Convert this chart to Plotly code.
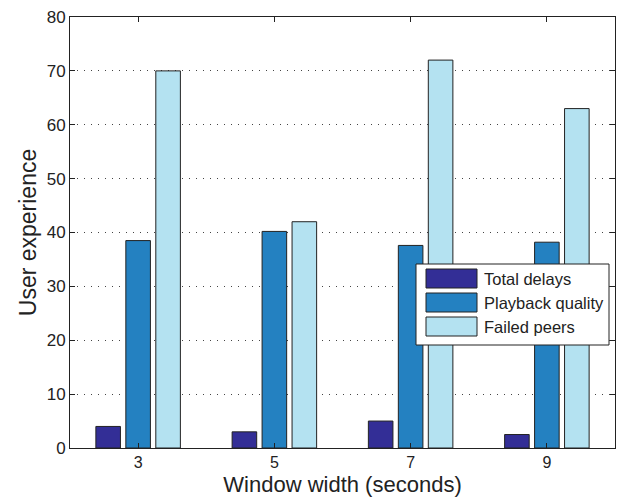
import plotly.graph_objects as go

windows = [3, 5, 7, 9]
total_delays = [4.0, 3.0, 5.0, 2.5]
playback_quality = [38.5, 40.2, 37.6, 38.2]
failed_peers = [70.0, 42.0, 72.0, 63.0]

series = [
    ("Total delays", total_delays, "#332e96"),
    ("Playback quality", playback_quality, "#2481c1"),
    ("Failed peers", failed_peers, "#b4e2f1"),
]

font = "Liberation Sans, Arial, Helvetica, sans-serif"
edge = "#222222"

fig = go.Figure()
for name, vals, color in series:
    fig.add_trace(go.Bar(
        x=windows, y=vals, name=name, showlegend=False,
        marker=dict(color=color, line=dict(color=edge, width=1)),
    ))

# Boxed legend with wide rectangular swatches (paper coordinates of the plot area)
W, H = 545.0, 431.0
L, T = 70.0, 17.0


def px(x):
    return (x - L) / W


def py(y):
    return (T + H - y) / H


shapes = [dict(type="rect", xref="paper", yref="paper",
               x0=px(416), x1=px(609), y0=py(345), y1=py(264),
               fillcolor="white", line=dict(color=edge, width=1), layer="above")]
annotations = []
row_tops = [269, 293, 317]
for (name, _, color), top in zip(series, row_tops):
    shapes.append(dict(type="rect", xref="paper", yref="paper",
                       x0=px(426), x1=px(477), y0=py(top + 19), y1=py(top),
                       fillcolor=color, line=dict(color=edge, width=1), layer="above"))
    annotations.append(dict(xref="paper", yref="paper", x=px(482), y=py(top + 9.5),
                            xanchor="left", yanchor="middle", showarrow=False,
                            text=name, font=dict(size=16.5, family=font, color=edge)))

fig.update_layout(
    width=619, height=497,
    margin=dict(l=70, r=4, t=17, b=49),
    paper_bgcolor="white", plot_bgcolor="white",
    barmode="group", bargap=0.34, bargroupgap=0.18,
    font=dict(family=font, size=16, color=edge),
    shapes=shapes, annotations=annotations,
    xaxis=dict(
        range=[2, 10], tickvals=windows, ticktext=[str(w) for w in windows],
        ticks="inside", ticklen=5, tickcolor=edge,
        showline=True, linecolor=edge, linewidth=1, mirror="ticks",
        showgrid=False, zeroline=False,
        tickfont=dict(size=16),
        title=dict(text="Window width (seconds)", font=dict(size=22, family=font), standoff=6),
    ),
    yaxis=dict(
        range=[0, 80], dtick=10,
        ticks="inside", ticklen=5, tickcolor=edge,
        showline=True, linecolor=edge, linewidth=1, mirror="ticks",
        showgrid=True, gridcolor="#444444", gridwidth=1, griddash="1px,6px",
        zeroline=False,
        tickfont=dict(size=17),
        title=dict(text="User experience", font=dict(size=23, family=font), standoff=3),
    ),
)

fig.write_html("out.html")
